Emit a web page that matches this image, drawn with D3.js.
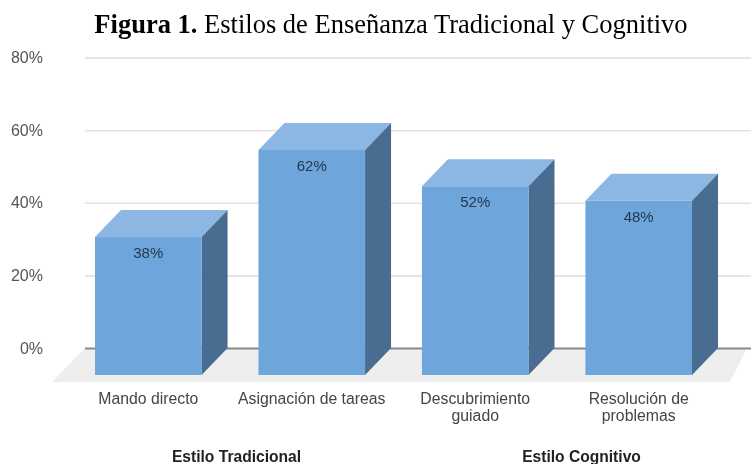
<!DOCTYPE html>
<html>
<head>
<meta charset="utf-8">
<script src="https://cdn.jsdelivr.net/npm/d3@7"></script>
<style>
  html, body { margin: 0; padding: 0; background: #fff; }
  svg { display: block; }
  text { font-family: "Liberation Sans", Arial, sans-serif; }
</style>
</head>
<body>
<svg id="chart" width="751" height="464"></svg>
<script>
// Values
const categories = ["Mando directo", "Asignación de tareas", "Descubrimiento\nguiado", "Resolución de\nproblemas"];
const values = [38, 62, 52, 48];
const yTicks = [0, 20, 40, 60, 80];
const groupNames = ["Estilo Tradicional", "Estilo Cognitivo"];

const width = 751, height = 464;
// how far the back plane sits from the front face of a bar
const depth = { x: 26, y: 27 };
const baseY = 348;

const svg = d3.select("#chart");

const defs = svg.append("defs");
defs.append("filter").attr("id", "soft")
  .attr("x", "-5%").attr("y", "-5%").attr("width", "110%").attr("height", "110%")
  .append("feGaussianBlur").attr("stdDeviation", 0.45);

const g = svg.append("g").attr("filter", "url(#soft)");

const y = d3.scaleLinear().domain([0, 80]).range([baseY, 57.6]);
const x = d3.scaleBand().domain(categories).range([95, 692]).paddingInner(0.348);

// Title, mixed bold and regular
const title = g.append("text")
  .attr("x", 391).attr("y", 33)
  .attr("text-anchor", "middle")
  .style("font-family", "'Liberation Serif', 'Times New Roman', serif")
  .style("font-size", "26.5px")
  .attr("fill", "#000");
title.append("tspan").attr("font-weight", "bold").text("Figura 1.");
title.append("tspan").text(" Estilos de Enseñanza Tradicional y Cognitivo");

// Floor under the bars
g.append("path")
  .attr("d", d3.line()([[85, baseY], [747, baseY], [730, baseY + 34], [52, baseY + 34]]) + "Z")
  .attr("fill", "#eeeeee");

// Y axis + grid
const yAxis = g.append("g")
  .attr("class", "y-axis")
  .attr("transform", "translate(85,0)")
  .call(d3.axisLeft(y).tickValues(yTicks).tickFormat(d => d + "%").tickSize(0).tickPadding(42));
yAxis.select(".domain").remove();
yAxis.selectAll("text")
  .attr("fill", "#555")
  .style("font-size", "16px");
yAxis.selectAll("line")
  .attr("x1", 0)
  .attr("x2", width - 85)
  .attr("stroke", d => d === 0 ? "#888888" : "#e2e2e2")
  .attr("stroke-width", d => d === 0 ? 2 : 1.6);

// Bars, each a front, top and side face
const bars = g.append("g").selectAll("g")
  .data(values)
  .enter().append("g")
  .attr("class", "bar");

const line = d3.line();

function barBox(d, i) {
  const x0 = x(categories[i]);
  const x1 = x0 + x.bandwidth();
  const top = y(d) + depth.y;
  const bottom = y(0) + depth.y;
  return { x0, x1, top, bottom };
}

bars.append("path")
  .attr("d", (d, i) => {
    const b = barBox(d, i);
    return line([[b.x0, b.top], [b.x1, b.top], [b.x1 + depth.x, b.top - depth.y], [b.x0 + depth.x, b.top - depth.y]]) + "Z";
  })
  .attr("fill", "#8bb7e2");

bars.append("path")
  .attr("d", (d, i) => {
    const b = barBox(d, i);
    return line([[b.x1, b.top], [b.x1 + depth.x, b.top - depth.y], [b.x1 + depth.x, b.bottom - depth.y], [b.x1, b.bottom]]) + "Z";
  })
  .attr("fill", "#4a6d91");

bars.append("rect")
  .attr("x", (d, i) => barBox(d, i).x0)
  .attr("y", (d, i) => barBox(d, i).top)
  .attr("width", x.bandwidth())
  .attr("height", (d, i) => barBox(d, i).bottom - barBox(d, i).top)
  .attr("fill", "#6ea6dc");

// Value labels just under the top edge of the front face
bars.append("text")
  .attr("x", (d, i) => x(categories[i]) + x.bandwidth() / 2)
  .attr("y", (d, i) => barBox(d, i).top + 21)
  .attr("text-anchor", "middle")
  .attr("fill", "#24384c")
  .style("font-size", "15px")
  .text(d => d + "%");

// Category labels
const catLabels = g.append("g").selectAll("text")
  .data(categories)
  .enter().append("text")
  .attr("text-anchor", "middle")
  .attr("fill", "#444")
  .style("font-size", "15.8px");

catLabels.selectAll("tspan")
  .data(d => d.split("\n").map(t => ({ t, c: d })))
  .enter().append("tspan")
  .attr("x", d => x(d.c) + x.bandwidth() / 2)
  .attr("y", (d, i) => 404 + i * 16.7)
  .text(d => d.t);

// Group labels below the categories, not centred on their bars in the original
g.append("g").selectAll("text")
  .data(groupNames)
  .enter().append("text")
  .attr("x", (d, i) => i === 0 ? 236.5 : 581.5)
  .attr("y", 462)
  .attr("text-anchor", "middle")
  .attr("font-weight", "bold")
  .attr("fill", "#222")
  .style("font-size", "15.6px")
  .text(d => d);
</script>
</body>
</html>
